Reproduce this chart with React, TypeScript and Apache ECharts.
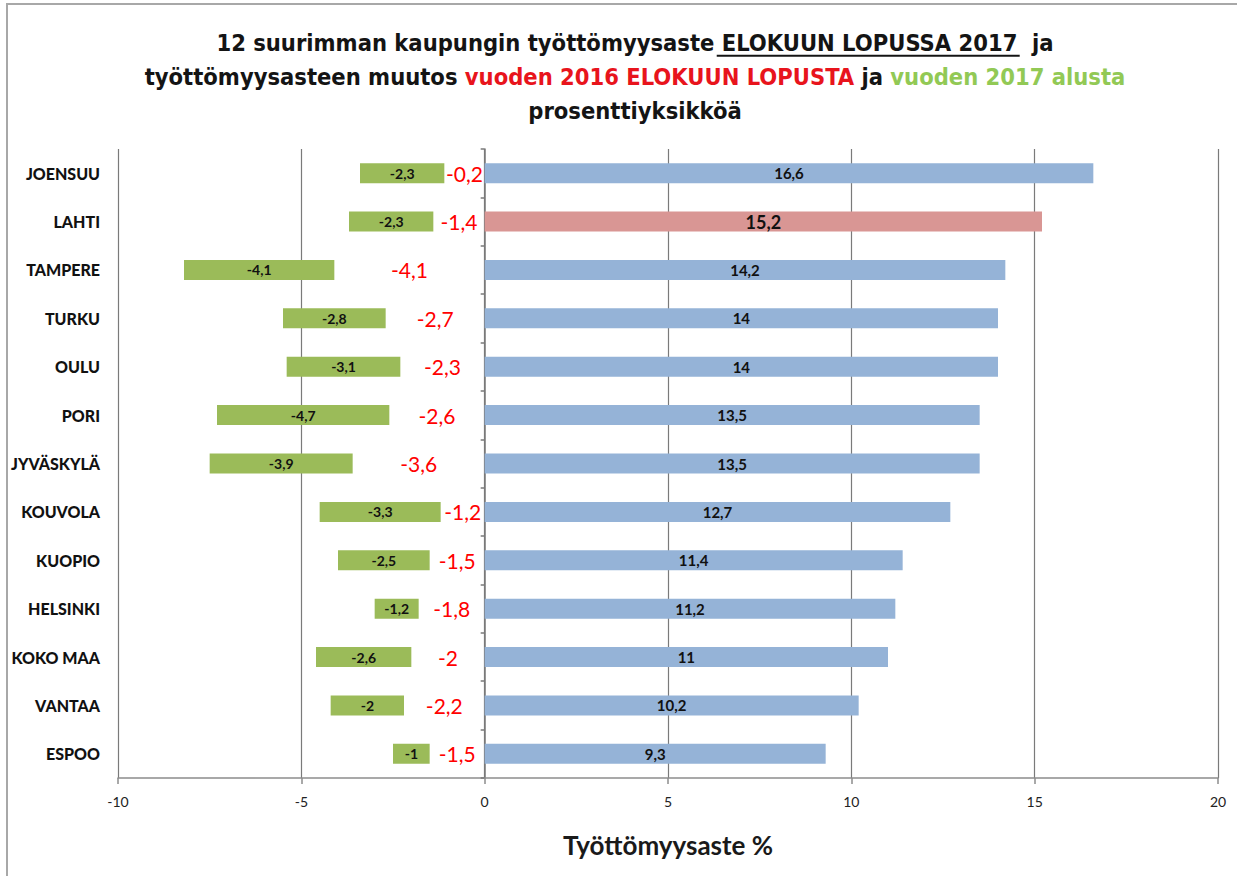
import React, { useEffect, useRef } from "react";
import * as echarts from "echarts";

const cities = ["JOENSUU", "LAHTI", "TAMPERE", "TURKU", "OULU", "PORI", "JYVÄSKYLÄ", "KOUVOLA", "KUOPIO", "HELSINKI", "KOKO MAA", "VANTAA", "ESPOO"];
const rateAug2017 = [16.6, 15.2, 14.2, 14, 14, 13.5, 13.5, 12.7, 11.4, 11.2, 11, 10.2, 9.3];
const changeFromAug2016 = [-0.2, -1.4, -4.1, -2.7, -2.3, -2.6, -3.6, -1.2, -1.5, -1.8, -2, -2.2, -1.5];
const greenOffset = [-1.1, -1.4, -4.1, -2.7, -2.3, -2.6, -3.6, -1.2, -1.5, -1.8, -2, -2.2, -1.5];
const changeFromStart2017 = [-2.3, -2.3, -4.1, -2.8, -3.1, -4.7, -3.9, -3.3, -2.5, -1.2, -2.6, -2, -1];
const highlightCity = "LAHTI";
const xMin = -10;
const xMax = 20;
const xInterval = 5;

const titlePrefix = "12 suurimman kaupungin työttömyysaste ";
const titleUnderlined = "ELOKUUN LOPUSSA 2017 ";
const titleSuffix = " ja";
const titleLine2a = "työttömyysasteen muutos ";
const titleLine2r = "vuoden 2016 ELOKUUN LOPUSTA";
const titleLine2b = " ja ";
const titleLine2g = "vuoden 2017 alusta";
const titleLine3 = "prosenttiyksikköä";

const NARROW = '"DejaVu Sans Condensed", "Liberation Sans Narrow", Arial, sans-serif';
const CAL = 'Lato, "Noto Sans", sans-serif';

const fmt = (v: number) => String(v).replace(".", ",");

export default function App() {
  const ref = useRef<HTMLDivElement>(null);
  useEffect(() => {
    document.body.style.margin = "0";
    const chart = echarts.init(ref.current!, null, { renderer: "svg" });
    const TSIZE = 23.5;
    const TLH = 34;
    const TTOP = 21;
    const TCENTER = 630;
    const titleBase = { fontFamily: NARROW, fontSize: TSIZE, fontWeight: "bold" as const, lineHeight: TLH };

    // measure text to place the underline under the underlined part of line 1
    const ctx = document.createElement("canvas").getContext("2d")!;
    ctx.font = `bold ${TSIZE}px ${NARROW}`;
    const wPrefix = ctx.measureText(titlePrefix).width;
    const wUnder = ctx.measureText(titleUnderlined).width;
    const wAll = ctx.measureText(titlePrefix + titleUnderlined + titleSuffix).width;
    const lineStart = TCENTER - wAll / 2;
    const ulX1 = lineStart + wPrefix;
    const ulX2 = ulX1 + wUnder;
    const ulY = TTOP + TLH / 2 + TSIZE * 0.75;

    chart.setOption({
      animation: false,
      backgroundColor: "#ffffff",
      title: {
        text:
          titlePrefix + "{u|" + titleUnderlined + "}" + titleSuffix + "\n" +
          titleLine2a + "{r|" + titleLine2r + "}" + titleLine2b + "{g|" + titleLine2g + "}\n" +
          titleLine3,
        left: TCENTER,
        top: TTOP,
        textAlign: "center",
        textStyle: {
          ...titleBase,
          color: "#141414",
          rich: {
            u: { ...titleBase, color: "#141414" },
            r: { ...titleBase, color: "#e8141c" },
            g: { ...titleBase, color: "#92c955" },
          },
        },
      },
      graphic: [
        {
          type: "rect",
          shape: { x: 7, y: 4, width: 1250, height: 900 },
          style: { fill: "none", stroke: "#a8a8a8", lineWidth: 2 },
          silent: true,
        },
        {
          type: "line",
          shape: { x1: ulX1, y1: ulY, x2: ulX2, y2: ulY },
          style: { stroke: "#141414", lineWidth: 2 },
          silent: true,
        },
      ],
      grid: { left: 118, right: 19, top: 149, bottom: 98, containLabel: false },
      xAxis: {
        type: "value",
        min: xMin,
        max: xMax,
        interval: xInterval,
        axisLine: { show: true, onZero: false, lineStyle: { color: "#8c8c8c", width: 1.5 } },
        axisTick: { show: true, length: 6, lineStyle: { color: "#8c8c8c", width: 1.5 } },
        splitLine: { show: true, lineStyle: { color: "#7a7a7a", width: 1.2 } },
        axisLabel: { fontFamily: CAL, fontSize: 14, color: "#222", margin: 16 },
        name: "Työttömyysaste %",
        nameLocation: "middle",
        nameGap: 54,
        nameTextStyle: { fontFamily: CAL, fontSize: 26, fontWeight: "bold", color: "#1a1a1a" },
      },
      yAxis: [
        {
          type: "category",
          data: cities,
          inverse: true,
          axisLine: { show: false, onZero: false },
          axisTick: { show: false },
          axisLabel: { fontFamily: CAL, fontSize: 16, fontWeight: 900, color: "#111", margin: 18 },
        },
        {
          type: "category",
          data: cities,
          inverse: true,
          position: "left",
          axisLine: { show: true, onZero: true, lineStyle: { color: "#7a7a7a", width: 1.5 } },
          axisTick: { show: true, length: 4, lineStyle: { color: "#7a7a7a", width: 1.5 } },
          axisLabel: { show: false },
        },
      ],
      series: [
        {
          name: "offset",
          type: "bar",
          stack: "all",
          barWidth: 20,
          data: greenOffset,
          itemStyle: { color: "transparent" },
          silent: true,
          label: {
            show: true,
            position: "inside",
            formatter: (p: any) => fmt(changeFromAug2016[p.dataIndex]),
            color: "#ff0000",
            fontFamily: CAL,
            fontSize: 21,
          },
        },
        {
          name: "vuoden 2017 alusta",
          type: "bar",
          stack: "all",
          barWidth: 20,
          data: changeFromStart2017,
          itemStyle: { color: "#9bbb59" },
          label: {
            show: true,
            position: "inside",
            formatter: (p: any) => fmt(p.value),
            color: "#111",
            fontFamily: CAL,
            fontSize: 14,
            fontWeight: "bold",
          },
        },
        {
          name: "Työttömyysaste",
          type: "bar",
          stack: "all",
          barWidth: 20,
          data: rateAug2017.map((v, i) =>
            cities[i] === highlightCity
              ? { value: v, itemStyle: { color: "#d99694" }, label: { fontSize: 18 } }
              : v
          ),
          itemStyle: { color: "#95b3d7" },
          label: {
            show: true,
            position: "inside",
            formatter: (p: any) => fmt(p.value),
            color: "#111",
            fontFamily: CAL,
            fontSize: 15,
            fontWeight: "bold",
          },
        },
      ],
    });
    return () => chart.dispose();
  }, []);
  return <div ref={ref} style={{ width: 1237, height: 876 }} />;
}
